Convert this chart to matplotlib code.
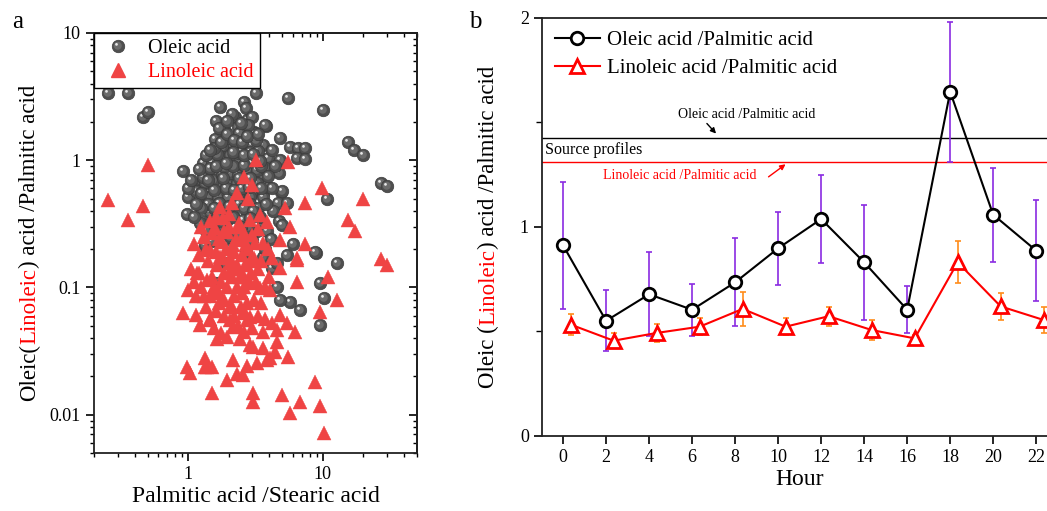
import matplotlib
matplotlib.use("Agg")
from matplotlib import pyplot as plt
from matplotlib.path import Path
from matplotlib.lines import Line2D
from matplotlib.legend_handler import HandlerTuple
from matplotlib.ticker import FixedLocator, LogLocator, NullFormatter, FuncFormatter, MultipleLocator

plt.rcParams['font.family'] = ['Liberation Serif', 'DejaVu Serif']

# ---- panel a : ratios of individual samples ----
oleic_x = [0.255, 0.36, 0.46, 0.50, 3.2, 5.5, 10.0, 1.73, 2.6, 2.7, 15.3, 17.0, 19.8, 27.0, 30.0,
           0.92, 0.98, 10.7, 8.9, 12.7, 9.5, 10.2, 9.5, 6.8, 5.7, 4.8, 4.6, 4.2, 4.6, 5.4,
           3.6, 2.7, 1.34, 1.9, 1.6, 6.0, 4.9, 4.65, 5.4, 5.7, 6.5, 7.4, 6.4, 7.4, 4.8,
           4.7, 3.8, 8.7,
           2.23, 2.73, 3.0, 1.6, 2.34, 1.88, 3.1, 2.64, 1.58, 2.05, 1.78, 2.3, 2.64, 3.0, 3.6,
           1.29, 1.5, 1.73, 1.98, 2.3, 2.73, 3.13, 3.9, 4.8,
           1.34, 1.64, 1.98, 2.43, 3.0, 3.6,
           1.13, 1.34, 1.64, 1.94, 2.3, 2.73, 3.25,
           1.02, 1.19, 1.46, 1.73, 2.05, 2.55, 3.0, 3.6,
           1.46, 1.82, 2.15, 2.73, 1.27, 1.58, 1.94, 3.6, 4.7, 3.25, 3.85,
           1.34, 2.05, 2.55, 3.0,
           3.72, 3.13, 1.78, 2.05, 2.34, 3.0, 1.09, 1.29, 1.53, 1.78, 2.05, 2.34, 2.73, 3.25, 3.72,
           1.0, 1.41, 1.67, 1.98, 2.34, 2.88, 3.6, 4.97, 1.23, 1.46, 1.78, 2.15, 2.55, 4.97,
           1.55, 1.9, 2.2, 2.5, 2.85, 1.4, 1.7, 2.0, 2.4, 2.9, 3.3, 1.25, 1.15, 1.85, 2.15, 2.6,
           1.45, 1.65, 2.45, 2.9, 3.3, 2.0, 2.4, 1.7, 2.8, 2.1, 3.2, 3.5, 3.9, 4.3, 3.4, 2.8,
           2.3, 1.7, 1.5, 2.0, 3.7, 4.1, 1.1, 0.99,
           1.2, 1.35, 1.55, 1.75, 1.95, 2.2, 2.5, 2.75, 3.3, 2.45, 1.95, 1.45, 1.6, 1.9, 2.15,
           2.6, 3.05, 3.4, 4.2, 4.4, 3.9, 4.2, 3.5, 1.25, 1.4, 2.4, 2.9, 1.8, 1.05, 1.15, 1.55,
           2.6, 3.05, 3.8, 2.9, 2.45, 1.35, 1.65]
oleic_y = [3.4, 3.4, 2.17, 2.4, 3.4, 3.1, 2.5, 2.6, 2.85, 2.55, 1.38, 1.2, 1.09, 0.66, 0.63,
           0.82, 0.38, 0.5, 0.186, 0.155, 0.108, 0.082, 0.051, 0.067, 0.077, 0.080, 0.100, 0.142, 0.155, 0.18,
           0.174, 0.19, 0.2, 0.155, 0.108, 0.22, 0.56, 0.46, 0.46, 1.27, 1.24, 1.24, 1.05, 1.02, 1.49,
           0.79, 1.85, 0.19,
           2.17, 2.06, 2.17, 2.02, 1.81, 1.69, 1.66, 1.54, 1.46, 1.36, 1.27, 1.24, 1.27, 1.31, 1.31,
           0.95, 0.95, 1.0, 1.0, 1.0, 1.06, 1.0, 1.04, 1.0,
           0.79, 0.8, 0.79, 0.8, 0.79, 0.76,
           0.64, 0.66, 0.66, 0.66, 0.66, 0.66, 0.66,
           0.52, 0.5, 0.55, 0.53, 0.51, 0.53, 0.55, 0.55,
           0.39, 0.405, 0.37, 0.38, 0.33, 0.32, 0.34, 0.32, 0.33, 0.28, 0.28,
           0.216, 0.25, 0.245, 0.236,
           1.88, 1.63, 1.06, 1.09, 1.13, 0.95, 0.61, 0.735, 0.70, 0.76, 0.8, 0.76, 0.835, 0.835, 0.865,
           0.51, 0.51, 0.51, 0.51, 0.55, 0.51, 0.51, 0.57, 0.32, 0.3, 0.325, 0.36, 0.34, 0.31,
           0.58, 0.6, 0.58, 0.6, 0.62, 0.45, 0.46, 0.44, 0.45, 0.45, 0.42, 0.42, 0.57, 0.88, 0.9, 0.92,
           0.87, 1.12, 1.15, 1.15, 1.18, 1.5, 1.65, 1.8, 1.9, 2.3, 1.45, 0.9, 0.62, 0.4, 0.36, 0.3,
           0.27, 0.26, 0.23, 0.2, 0.2, 0.24, 0.36, 0.6,
           0.85, 1.1, 1.25, 1.4, 1.6, 1.45, 1.4, 1.55, 1.6, 1.95, 2.05, 1.2, 0.9, 0.95, 1.15,
           1.1, 1.12, 0.98, 1.2, 0.9, 0.75, 0.6, 0.6, 0.55, 0.7, 0.72, 0.72, 0.72, 0.7, 0.45, 0.42,
           0.42, 0.4, 0.45, 0.35, 0.3, 0.28, 0.36]

linoleic_x = [0.50, 0.255, 0.46, 0.36, 3.2, 5.5, 2.6, 3.0, 9.8, 7.4, 19.8, 15.3, 17.2, 26.9, 29.7,
              5.2, 5.7, 4.8, 7.4, 6.4,
              1.17, 6.4, 6.4, 10.9, 12.7, 9.5, 4.8, 0.92, 1.15, 1.23, 1.46, 4.2, 5.4, 6.2,
              1.64, 1.94, 3.6, 2.15, 3.03, 4.4, 5.5, 1.34, 1.5, 1.34, 0.98, 1.03, 1.94, 2.3,
              2.55, 3.25, 4.05, 8.7, 1.5, 3.03, 3.03, 4.97, 6.76, 9.5, 5.7, 10.2,
              2.3, 2.78, 1.73, 2.12, 3.41, 3.85, 1.58, 1.94, 2.34, 2.88, 2.55, 3.13, 3.6, 1.78,
              2.15, 1.46, 1.73, 2.05, 2.43, 2.88, 3.41, 4.05, 4.8, 1.38, 1.58, 1.78, 2.12, 2.55,
              2.88, 3.72, 4.55, 2.15, 2.43, 2.88, 4.55, 3.85, 2.73, 1.38,
              1.3, 1.5, 1.7, 1.9, 2.2, 2.5, 2.8, 3.1, 1.4, 1.65, 1.85, 2.1, 2.35, 2.65, 2.95, 3.3,
              1.25, 1.45, 1.7, 1.95, 2.2, 2.5, 2.75, 3.1, 3.5, 1.35, 1.6, 1.85, 2.05, 2.35, 2.6,
              3.0, 3.3, 1.55, 1.75, 1.2, 1.1, 1.05, 1.6, 2.0, 2.6, 3.3, 3.9, 4.2, 4.0, 3.7, 1.15,
              2.0, 2.4, 1.8,
              1.25, 1.45, 1.85, 2.25, 2.7, 3.0, 1.35, 1.6, 1.8, 2.05, 2.3, 2.6, 2.9, 3.5, 1.2, 1.5,
              1.75, 2.0, 2.3, 2.6, 3.2, 1.3, 1.55, 1.85, 2.05, 2.45, 2.75, 3.6, 1.45, 1.7, 2.2, 1.0,
              1.1, 2.6]
linoleic_y = [0.91, 0.485, 0.435, 0.34, 1.0, 0.97, 0.74, 0.64, 0.6, 0.46, 0.5, 0.34, 0.28, 0.167, 0.15,
              0.42, 0.30, 0.236, 0.22, 0.17,
              0.13, 0.164, 0.11, 0.12, 0.08, 0.064, 0.061, 0.063, 0.061, 0.051, 0.056, 0.053, 0.053, 0.045,
              0.039, 0.041, 0.0335, 0.027, 0.034, 0.031, 0.0285, 0.028, 0.0235, 0.0235, 0.0235, 0.0213, 0.0188, 0.021,
              0.0206, 0.0255, 0.028, 0.018, 0.0149, 0.0149, 0.0126, 0.0144, 0.0125, 0.0116, 0.0104, 0.0072,
              0.55, 0.5, 0.43, 0.46, 0.37, 0.326, 0.293, 0.272, 0.3, 0.339, 0.236, 0.223, 0.223, 0.227,
              0.216, 0.197, 0.174, 0.155, 0.121, 0.108, 0.099, 0.096, 0.142, 0.115, 0.096, 0.08, 0.07, 0.063,
              0.059, 0.056, 0.046, 0.049, 0.039, 0.035, 0.037, 0.027, 0.024, 0.0235,
              0.25, 0.27, 0.24, 0.2, 0.19, 0.18, 0.2, 0.17, 0.16, 0.15, 0.13, 0.12, 0.14, 0.15, 0.13, 0.14,
              0.1, 0.085, 0.09, 0.1, 0.085, 0.09, 0.075, 0.08, 0.075, 0.07, 0.065, 0.06, 0.055, 0.05, 0.045,
              0.048, 0.06, 0.048, 0.044, 0.18, 0.22, 0.14, 0.36, 0.38, 0.27, 0.29, 0.2, 0.17, 0.12, 0.1, 0.085,
              0.3, 0.32, 0.35,
              0.3, 0.33, 0.28, 0.24, 0.22, 0.26, 0.2, 0.19, 0.17, 0.17, 0.15, 0.12, 0.16, 0.16, 0.13, 0.12,
              0.11, 0.13, 0.1, 0.1, 0.11, 0.085, 0.1, 0.08, 0.07, 0.07, 0.055, 0.045, 0.055, 0.075, 0.06, 0.095,
              0.11, 0.065]

# ---- panel b : diurnal variation ----
hours = [0, 2, 4, 6, 8, 10, 12, 14, 16, 18, 20, 22]
oleic_ratio = [0.912, 0.551, 0.678, 0.604, 0.735, 0.898, 1.038, 0.831, 0.604, 1.647, 1.059, 0.887]
oleic_err = [0.305, 0.146, 0.200, 0.125, 0.210, 0.175, 0.210, 0.275, 0.113, 0.335, 0.225, 0.240]
linoleic_ratio = [0.533, 0.456, 0.493, 0.523, 0.608, 0.523, 0.573, 0.507, 0.467, 0.831, 0.620, 0.555]
linoleic_err = [0.050, 0.035, 0.045, 0.040, 0.080, 0.040, 0.045, 0.048, 0.015, 0.100, 0.063, 0.060]
source_oleic = 1.427
source_linoleic = 1.313

sphere_color = '#4f4f4f'
tri_color = '#ef4444'

fig = plt.figure(figsize=(10.47, 5.11), dpi=100)
ax_a = fig.add_axes([0.0898, 0.1135, 0.3085, 0.822])
ax_b = fig.add_axes([0.5177, 0.1468, 0.4925, 0.818])

# sphere-like marker: base disc, lighter core, small highlight
def disc(cx, cy, r):
    circ = Path.circle((cx, cy), r)
    pad = Path([(0.5, 0.5), (-0.5, -0.5)], [Path.MOVETO, Path.MOVETO])
    return Path.make_compound_path(circ, pad)

mid_marker = disc(-0.06, 0.06, 0.32)
hi_marker = disc(-0.16, 0.17, 0.11)
sph = 9

ax_a.set_xscale('log')
ax_a.set_yscale('log')
for i in range(len(oleic_x)):
    ax_a.plot(oleic_x[i], oleic_y[i], 'o', ms=sph, mfc=sphere_color, mec='#3c3c3c', mew=0.5, zorder=2)
    ax_a.plot(oleic_x[i], oleic_y[i], marker=mid_marker, ms=sph, mfc='#6b6b6b', mew=0, ls='none', zorder=2)
    ax_a.plot(oleic_x[i], oleic_y[i], marker=hi_marker, ms=sph, mfc='#e8e8e8', mew=0, ls='none', zorder=2)
ax_a.plot(linoleic_x, linoleic_y, '^', ms=9.5, mfc=tri_color, mec=tri_color, mew=0.3, ls='none', zorder=3)

ax_a.set_xlim(0.2, 50)
ax_a.set_ylim(0.005, 10)
fmt = FuncFormatter(lambda v, p: '%g' % v)
ax_a.xaxis.set_major_locator(FixedLocator([1, 10]))
ax_a.yaxis.set_major_locator(FixedLocator([0.01, 0.1, 1, 10]))
ax_a.xaxis.set_major_formatter(fmt)
ax_a.yaxis.set_major_formatter(fmt)
for axis in (ax_a.xaxis, ax_a.yaxis):
    axis.set_minor_locator(LogLocator(base=10, subs=range(2, 10), numticks=20))
    axis.set_minor_formatter(NullFormatter())
ax_a.tick_params(which='major', direction='out', length=6, width=1.2, labelsize=13)
ax_a.tick_params(which='minor', direction='out', length=3, width=1)
for sp in ax_a.spines.values():
    sp.set_linewidth(1.3)
    sp.set_color('#222222')

sec_x = ax_a.secondary_xaxis('top')
sec_x.xaxis.set_major_locator(FixedLocator([1, 10]))
sec_x.xaxis.set_minor_locator(LogLocator(base=10, subs=range(2, 10), numticks=20))
sec_x.tick_params(which='major', direction='in', length=6, width=1.2, labeltop=False)
sec_x.tick_params(which='minor', direction='in', length=3, width=1)
sec_x.xaxis.set_minor_formatter(NullFormatter())
sec_y = ax_a.secondary_yaxis('right')
sec_y.yaxis.set_major_locator(FixedLocator([0.01, 0.1, 1, 10]))
sec_y.yaxis.set_minor_locator(LogLocator(base=10, subs=range(2, 10), numticks=20))
sec_y.tick_params(which='major', direction='in', length=6, width=1.2, labelright=False)
sec_y.tick_params(which='minor', direction='in', length=3, width=1)
sec_y.yaxis.set_minor_formatter(NullFormatter())
for s in (sec_x, sec_y):
    for sp in s.spines.values():
        sp.set_linewidth(1.3)

h_base = Line2D([], [], marker='o', ms=sph, mfc=sphere_color, mec='#3c3c3c', mew=0.5, ls='none')
h_mid = Line2D([], [], marker=mid_marker, ms=sph, mfc='#6b6b6b', mew=0, ls='none')
h_hi = Line2D([], [], marker=hi_marker, ms=sph, mfc='#e8e8e8', mew=0, ls='none')
h_tri = Line2D([], [], marker='^', ms=9.5, mfc=tri_color, mec=tri_color, ls='none')
leg_a = ax_a.legend([(h_base, h_mid, h_hi), h_tri], ['Oleic acid', 'Linoleic acid'],
                    handler_map={tuple: HandlerTuple(ndivide=1, pad=0)},
                    loc='upper left', borderaxespad=0, fontsize=14.5, fancybox=False,
                    framealpha=1, edgecolor='black', handletextpad=0.6, borderpad=0.3,
                    labelspacing=0.25, handlelength=1.8)
leg_a.get_frame().set_linewidth(1.0)
leg_a.get_texts()[1].set_color('red')
ax_a.set_xlabel('Palmitic acid /Stearic acid', fontsize=17, labelpad=2)

# ---- panel b ----
lin_pos = [h + 0.35 for h in hours]
ax_b.errorbar(hours, oleic_ratio, yerr=oleic_err, fmt='none', ecolor='#8a2be2',
              elinewidth=1.2, capsize=2.5, capthick=1.2, zorder=2)
ax_b.errorbar(lin_pos, linoleic_ratio, yerr=linoleic_err, fmt='none', ecolor='#ff8c1a',
              elinewidth=1.2, capsize=2.5, capthick=1.2, zorder=2)
ln1, = ax_b.plot(hours, oleic_ratio, '-o', color='black', lw=1.5, ms=9, mfc='white',
                 mec='black', mew=2, zorder=4, label='Oleic acid /Palmitic acid')
ln2, = ax_b.plot(lin_pos, linoleic_ratio, '-^', color='red', lw=1.5, ms=10, mfc='white',
                 mec='red', mew=2, zorder=3, label='Linoleic acid /Palmitic acid')

ax_b.axhline(source_oleic, color='black', lw=1, zorder=1)
ax_b.axhline(source_linoleic, color='red', lw=1, zorder=1)
ax_b.text(0.006, (source_oleic + source_linoleic) / 2, 'Source profiles', fontsize=11.5,
          transform=ax_b.get_yaxis_transform(), va='center', ha='left')
ax_b.annotate('', xy=(7.2, source_oleic + 0.01), xytext=(6.6, 1.505),
              arrowprops=dict(arrowstyle='-|>', color='black', lw=1, mutation_scale=8))
ax_b.text(8.56, 1.54, 'Oleic acid /Palmitic acid', fontsize=10, ha='center', va='center')
ax_b.annotate('', xy=(10.45, source_linoleic - 0.005), xytext=(9.45, 1.232),
              arrowprops=dict(arrowstyle='-|>', color='red', lw=1, mutation_scale=8))
ax_b.text(5.44, 1.244, 'Linoleic acid /Palmitic acid', fontsize=10, ha='center', va='center',
          color='red')

ax_b.set_xlim(-0.98, 23.0)
ax_b.set_ylim(0, 2)
ax_b.set_xticks(hours)
ax_b.yaxis.set_major_locator(FixedLocator([0, 1, 2]))
ax_b.yaxis.set_minor_locator(MultipleLocator(0.5))
ax_b.tick_params(which='major', direction='out', length=6, width=1.2, labelsize=13)
ax_b.tick_params(which='minor', direction='out', length=4, width=1)
ax_b.spines['right'].set_visible(False)
for sp in ax_b.spines.values():
    sp.set_linewidth(1.3)
    sp.set_color('#222222')
ax_b.set_xlabel('Hour', fontsize=17, labelpad=2)
ax_b.legend(handles=[ln1, ln2], loc='upper left', frameon=False, fontsize=15,
            handlelength=2.2, handletextpad=0.3, labelspacing=0.4, borderaxespad=0.2)

# ---- multi-coloured y labels ----
def color_ylabel(x_fig, parts, size):
    first = fig.text(x_fig, 0.5, parts[0][0], color=parts[0][1], fontsize=size, rotation=90,
                     rotation_mode='anchor', ha='left', va='baseline')
    items = [first]
    prev = first
    for txt, col in parts[1:]:
        t = ax_a.annotate(txt, xy=(x_fig, 1), xycoords=('figure fraction', prev), color=col,
                          fontsize=size, rotation=90, rotation_mode='anchor', ha='left',
                          va='baseline', annotation_clip=False)
        items.append(t)
        prev = t
    return items

lab_a = color_ylabel(35 / 1047, [('Oleic(', 'black'), ('Linoleic', 'red'),
                                 (') acid /Palmitic acid', 'black')], 16.5)
lab_b = color_ylabel(494 / 1047, [('Oleic (', 'black'), ('Linoleic', 'red'),
                                  (') acid /Palmitic acid', 'black')], 16.5)
fig.canvas.draw()
r = fig.canvas.get_renderer()
for items, yc in ((lab_a, 243), (lab_b, 227)):
    ys = [b for t in items for b in (t.get_window_extent(r).y0, t.get_window_extent(r).y1)]
    length = max(ys) - min(ys)
    items[0].set_y((511 - yc - length / 2) / 511)

fig.text(18 / 1047, 1 - 22 / 511, 'a', fontsize=18, ha='center', va='center')
fig.text(475 / 1047, 1 - 22 / 511, 'b', fontsize=18, ha='center', va='center')

plt.savefig('out.png', dpi=100)
plt.close()
